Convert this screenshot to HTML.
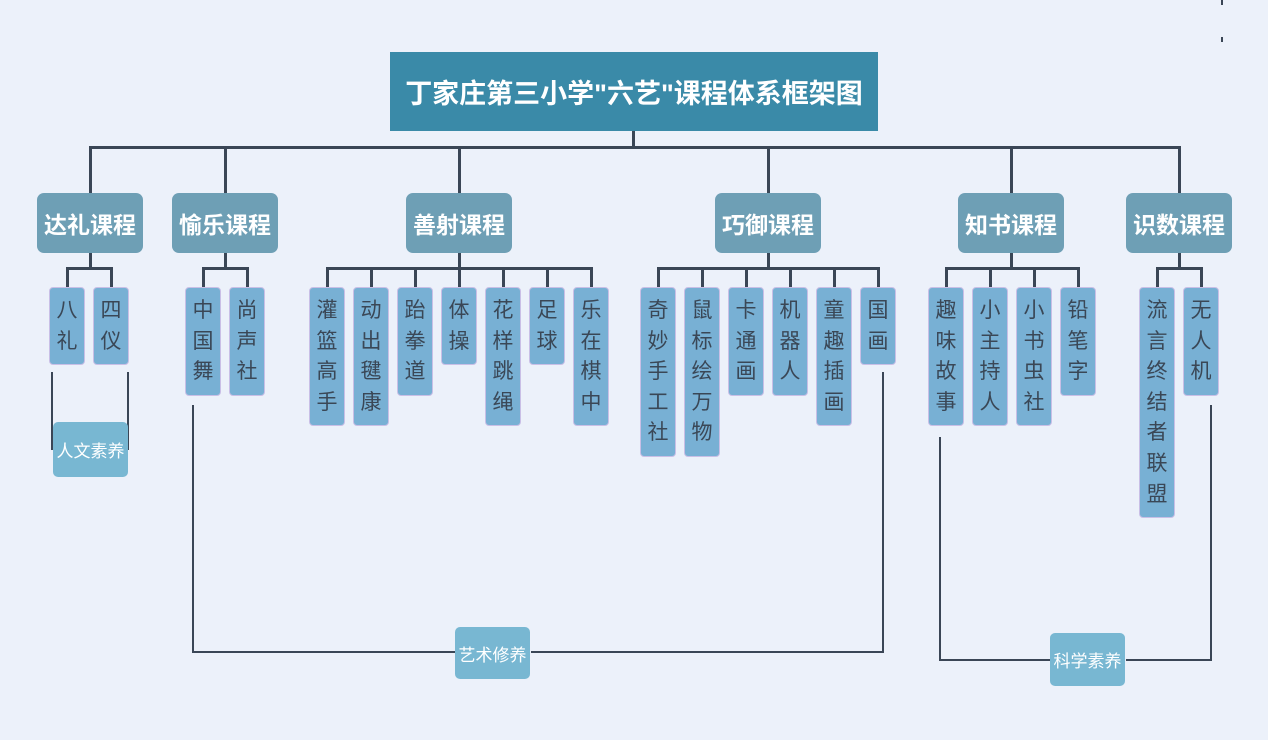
<!DOCTYPE html>
<html><head><meta charset="utf-8"><style>
body{margin:0;width:1268px;height:740px;background:#ecf1fa;position:relative;overflow:hidden;font-family:"Liberation Sans","Noto Sans CJK SC",sans-serif}
.a{position:absolute}
.t{left:390px;top:52px;width:488px;height:79px;background:#3a8aa8;color:#fff;font-size:27px;font-weight:bold;display:flex;align-items:center;justify-content:center}
.c{top:193px;width:106px;height:60px;background:#6e9fb5;border-radius:7px;color:#fff;font-size:23px;font-weight:bold;display:flex;align-items:center;justify-content:center}
.l{top:287px;width:34px;background:#78b0d4;border:1px solid #c9bfe6;border-radius:4px;color:#3a4756;font-size:21px;line-height:30.6px;text-align:center;padding-top:8px;padding-bottom:7px;box-sizing:content-box}
.s{width:75px;background:#78b7d2;border-radius:5px;color:#fff;font-size:17px;display:flex;align-items:center;justify-content:center}
.h{background:#3a4656;height:3px}
.v{background:#3a4656;width:3px}
</style></head><body>
<div class="a t">丁家庄第三小学"六艺"课程体系框架图</div>
<div class="a v" style="left:632px;top:131px;height:17px"></div>
<div class="a h" style="left:89px;top:146px;width:1092px"></div>
<div class="a v" style="left:89px;top:146px;height:47px"></div>
<div class="a v" style="left:224px;top:146px;height:47px"></div>
<div class="a v" style="left:458px;top:146px;height:47px"></div>
<div class="a v" style="left:767px;top:146px;height:47px"></div>
<div class="a v" style="left:1010px;top:146px;height:47px"></div>
<div class="a v" style="left:1178px;top:146px;height:47px"></div>

<div class="a c" style="left:37px">达礼课程</div>
<div class="a c" style="left:172px">愉乐课程</div>
<div class="a c" style="left:406px">善射课程</div>
<div class="a c" style="left:715px">巧御课程</div>
<div class="a c" style="left:958px">知书课程</div>
<div class="a c" style="left:1126px">识数课程</div>

<div class="a v" style="left:89px;top:253px;height:15px"></div>
<div class="a h" style="left:66px;top:267px;width:46px"></div>
<div class="a v" style="left:66px;top:267px;height:20px"></div><div class="a v" style="left:110px;top:267px;height:20px"></div>
<div class="a v" style="left:224px;top:253px;height:15px"></div>
<div class="a h" style="left:202px;top:267px;width:46px"></div>
<div class="a v" style="left:202px;top:267px;height:20px"></div><div class="a v" style="left:246px;top:267px;height:20px"></div>
<div class="a v" style="left:458px;top:253px;height:15px"></div>
<div class="a h" style="left:326px;top:267px;width:266px"></div>
<div class="a v" style="left:326px;top:267px;height:20px"></div><div class="a v" style="left:370px;top:267px;height:20px"></div><div class="a v" style="left:414px;top:267px;height:20px"></div><div class="a v" style="left:458px;top:267px;height:20px"></div><div class="a v" style="left:502px;top:267px;height:20px"></div><div class="a v" style="left:546px;top:267px;height:20px"></div><div class="a v" style="left:590px;top:267px;height:20px"></div>
<div class="a v" style="left:767px;top:253px;height:15px"></div>
<div class="a h" style="left:657px;top:267px;width:222px"></div>
<div class="a v" style="left:657px;top:267px;height:20px"></div><div class="a v" style="left:701px;top:267px;height:20px"></div><div class="a v" style="left:745px;top:267px;height:20px"></div><div class="a v" style="left:789px;top:267px;height:20px"></div><div class="a v" style="left:833px;top:267px;height:20px"></div><div class="a v" style="left:877px;top:267px;height:20px"></div>
<div class="a v" style="left:1010px;top:253px;height:15px"></div>
<div class="a h" style="left:945px;top:267px;width:134px"></div>
<div class="a v" style="left:945px;top:267px;height:20px"></div><div class="a v" style="left:989px;top:267px;height:20px"></div><div class="a v" style="left:1033px;top:267px;height:20px"></div><div class="a v" style="left:1077px;top:267px;height:20px"></div>
<div class="a v" style="left:1178px;top:253px;height:15px"></div>
<div class="a h" style="left:1156px;top:267px;width:46px"></div>
<div class="a v" style="left:1156px;top:267px;height:20px"></div><div class="a v" style="left:1200px;top:267px;height:20px"></div>

<div class="a l" style="left:49px">八<br>礼</div>
<div class="a l" style="left:93px">四<br>仪</div>
<div class="a l" style="left:185px">中<br>国<br>舞</div>
<div class="a l" style="left:229px">尚<br>声<br>社</div>
<div class="a l" style="left:309px">灌<br>篮<br>高<br>手</div>
<div class="a l" style="left:353px">动<br>出<br>毽<br>康</div>
<div class="a l" style="left:397px">跆<br>拳<br>道</div>
<div class="a l" style="left:441px">体<br>操</div>
<div class="a l" style="left:485px">花<br>样<br>跳<br>绳</div>
<div class="a l" style="left:529px">足<br>球</div>
<div class="a l" style="left:573px">乐<br>在<br>棋<br>中</div>
<div class="a l" style="left:640px">奇<br>妙<br>手<br>工<br>社</div>
<div class="a l" style="left:684px">鼠<br>标<br>绘<br>万<br>物</div>
<div class="a l" style="left:728px">卡<br>通<br>画</div>
<div class="a l" style="left:772px">机<br>器<br>人</div>
<div class="a l" style="left:816px">童<br>趣<br>插<br>画</div>
<div class="a l" style="left:860px">国<br>画</div>
<div class="a l" style="left:928px">趣<br>味<br>故<br>事</div>
<div class="a l" style="left:972px">小<br>主<br>持<br>人</div>
<div class="a l" style="left:1016px">小<br>书<br>虫<br>社</div>
<div class="a l" style="left:1060px">铅<br>笔<br>字</div>
<div class="a l" style="left:1139px">流<br>言<br>终<br>结<br>者<br>联<br>盟</div>
<div class="a l" style="left:1183px">无<br>人<br>机</div>

<div class="a v" style="left:51px;top:372px;height:78px;width:2px"></div>
<div class="a v" style="left:127px;top:372px;height:78px;width:2px"></div>
<div class="a s" style="left:53px;top:422px;height:55px">人文素养</div>

<div class="a v" style="left:192px;top:405px;height:248px;width:2px"></div>
<div class="a h" style="left:192px;top:651px;width:263px;height:2px"></div>
<div class="a h" style="left:531px;top:651px;width:353px;height:2px"></div>
<div class="a v" style="left:882px;top:372px;height:281px;width:2px"></div>
<div class="a s" style="left:455px;top:627px;height:52px">艺术修养</div>

<div class="a v" style="left:939px;top:437px;height:224px;width:2px"></div>
<div class="a h" style="left:939px;top:659px;width:111px;height:2px"></div>
<div class="a h" style="left:1126px;top:659px;width:86px;height:2px"></div>
<div class="a v" style="left:1210px;top:405px;height:256px;width:2px"></div>
<div class="a s" style="left:1050px;top:633px;height:53px">科学素养</div>

<div class="a v" style="left:1221px;top:0;height:5px;width:2px"></div>
<div class="a v" style="left:1221px;top:37px;height:5px;width:2px"></div>
</body></html>
